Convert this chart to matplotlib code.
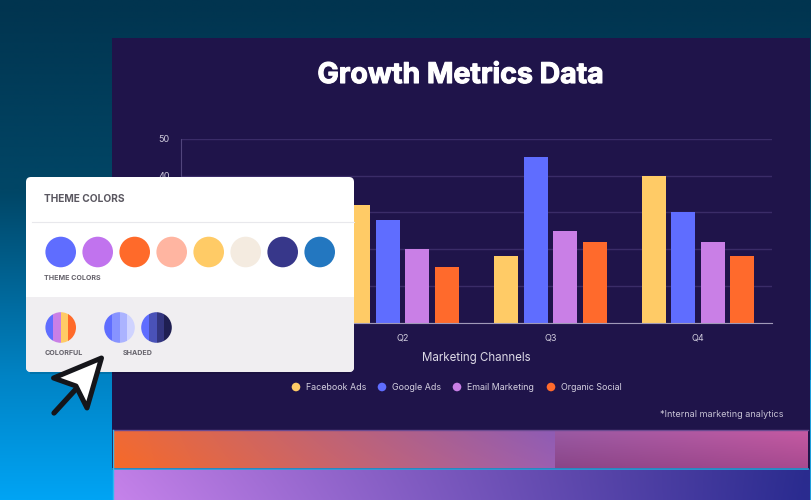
import numpy as np
import matplotlib
matplotlib.use("Agg")
import matplotlib.pyplot as plt
import matplotlib.patheffects as pe
from matplotlib.patches import Circle, FancyBboxPatch, Polygon, Rectangle
from matplotlib.colors import to_rgb

W, H = 811, 500
quarters = ["Q1", "Q2", "Q3", "Q4"]
facebook_ads = [25, 32, 18, 40]
google_ads = [30, 28, 45, 30]
email_marketing = [20, 20, 25, 22]
organic_social = [15, 15, 22, 18]
series_names = ["Facebook Ads", "Google Ads", "Email Marketing", "Organic Social"]
series_colors = ["#ffcb66", "#5f6dff", "#c97fe6", "#ff6a2c"]
yticks = [0, 10, 20, 30, 40, 50]
theme_colors = ["#5f6dff", "#c173ee", "#ff6a2a", "#ffb5a1", "#ffcb66", "#f4ebe0", "#37378a", "#2377c0"]
colorful = ["#5f6dff", "#c97fe6", "#ffcb66", "#ff6a2a"]
shaded_light = ["#5f6dff", "#8793ff", "#abb3ff", "#cfd3ff"]
shaded_dark = ["#5f6dff", "#4a52b8", "#33357f", "#1f1f52"]

plt.rcParams["font.family"] = ["Inter", "DejaVu Sans"]
fig = plt.figure(figsize=(W / 100, H / 100), dpi=100)

def layer(z):
    a = fig.add_axes([0, 0, 1, 1], zorder=z)
    a.set_xlim(0, W); a.set_ylim(H, 0); a.axis("off"); a.patch.set_alpha(0)
    return a

def grad(a, x0, x1, y0, y1, tl, tr, bl, br, z=1):
    tl, tr, bl, br = [np.array(to_rgb(c)) for c in (tl, tr, bl, br)]
    u = np.linspace(0, 1, 64)[None, :, None]
    v = np.linspace(0, 1, 64)[:, None, None]
    img = (1 - v) * ((1 - u) * tl + u * tr) + v * ((1 - u) * bl + u * br)
    a.imshow(img, extent=(x0, x1, y1, y0), aspect="auto", zorder=z, interpolation="bilinear")

bg = layer(0)
grad(bg, 0, W, 0, 190, "#01344f", "#01344f", "#014666", "#014666")
grad(bg, 0, W, 190, 380, "#014666", "#014666", "#0084c6", "#0084c6")
grad(bg, 0, W, 380, 500, "#0084c6", "#0084c6", "#00a4f4", "#00a4f4")
bg.add_patch(Rectangle((112, 38), 698, 392, color="#1f144a", zorder=2, lw=0))
bg.add_patch(Rectangle((112, 430), 698, 40, color="#1f144a", zorder=2, lw=0))
grad(bg, 113, 555, 430, 468, "#ee6a38", "#8f5cb4", "#f76a28", "#9c5fb0", z=3)
grad(bg, 555, 808, 430, 468, "#9a5aa4", "#c65aa2", "#8a4588", "#a84a90", z=3)
bg.plot([113, 808], [430, 430], color="#6a4a90", lw=1, zorder=4)
bg.plot([113, 808], [468.5, 468.5], color="#2aa0d8", lw=1.2, zorder=4)
bg.plot([112.5, 112.5], [430, 500], color="#30b8f0", lw=1, zorder=4)
grad(bg, 113, 810, 469, 500, "#c07ee6", "#2b2c8e", "#c582ea", "#2a2b90", z=3)
bg.add_patch(Rectangle((810, 380), 1, 120, color="#1fa0dc", zorder=4, lw=0))
bg.set_xlim(0, W); bg.set_ylim(H, 0)
bg.text(460.5, 75.5, "Growth Metrics Data", color="white", fontsize=20.5, fontweight="bold",
        ha="center", va="center", zorder=5,
        path_effects=[pe.withStroke(linewidth=0.8, foreground="white")])

# chart
ax = fig.add_axes([181 / W, 1 - 322.5 / H, 591 / W, 183.5 / H], zorder=1)
ax.patch.set_alpha(0)
x = np.arange(4)
bw = 24 / 147.75
step = 29.5 / 147.75
all_vals = [facebook_ads, google_ads, email_marketing, organic_social]
for i, (vals, c) in enumerate(zip(all_vals, series_colors)):
    ax.bar(x + (i - 1.5) * step, vals, bw, color=c, zorder=3)
ax.set_xlim(-0.5, 3.5)
ax.set_ylim(0, 50)
ax.set_yticks(yticks)
ax.set_xticks(x, quarters)
ax.grid(axis="y", color="#3a2c68", lw=1, zorder=0)
ax.tick_params(length=0, labelsize=6.5, labelcolor="#cfcbdc", pad=8)
for s in ["top", "right"]:
    ax.spines[s].set_visible(False)
ax.spines["left"].set_color("#51457c")
ax.spines["bottom"].set_color("#a09ab8")
ax.spines["bottom"].set_zorder(4)

txt = layer(2)
txt.text(476, 358, "Marketing Channels", color="#dcd9e6", fontsize=8.3, ha="center", va="center")
lx = [296, 382, 457, 551]
for name, c, px in zip(series_names, series_colors, lx):
    txt.add_patch(Circle((px, 387), 4.3, color=c, lw=0))
    txt.text(px + 10, 388, name, color="#d4d0e0", fontsize=6.4, va="center")
txt.text(783, 414.5, "*Internal marketing analytics", color="#c6c2d4", fontsize=6.5, ha="right", va="center")

# panel
p = layer(3)
p.add_patch(Rectangle((30, 372), 320, 2, fc="#000000", alpha=0.12, ec="none", zorder=0))
clip = FancyBboxPatch((30, 181), 320, 187, boxstyle="round,pad=4,rounding_size=5", fc="white", ec="none", zorder=1)
p.add_patch(clip)
low = Rectangle((26, 297), 328, 75, fc="#f0eef1", ec="none", zorder=2)
p.add_patch(low)
low.set_clip_path(clip)
p.plot([32, 354], [221.5, 221.5], color="#e8e8ec", lw=0.8, zorder=2)
label_font = dict(color="#66636c", fontsize=5.1, fontweight="bold", va="center", zorder=3)
p.text(44.5, 199, "THEME COLORS", color="#5a5760", fontsize=7.3, fontweight="bold", va="center", zorder=3)
p.text(44.5, 278, "THEME COLORS", **label_font)
p.text(44.5, 353, "COLORFUL", **label_font)
p.text(122.5, 353, "SHADED", **label_font)
for i, c in enumerate(theme_colors):
    p.add_patch(Circle((60.7 + 37 * i, 252), 15.3, color=c, lw=0, zorder=3))

def striped(cx, cy, r, cols):
    circ = Circle((cx, cy), r, fc="none", ec="none", zorder=3)
    p.add_patch(circ)
    w = 2 * r / len(cols)
    for i, c in enumerate(cols):
        s = Rectangle((cx - r + i * w, cy - r), w + 0.3, 2 * r, fc=c, ec="none", zorder=3)
        p.add_patch(s)
        s.set_clip_path(circ)

striped(60.7, 327.5, 15.3, colorful)
striped(119.5, 327.5, 15.3, shaded_light)
striped(156.5, 327.5, 15.3, shaded_dark)

# pointer
p.plot([54, 76], [413, 389], color="#15151a", lw=3.8, solid_capstyle="round", zorder=5)
p.add_patch(Polygon([(101.5, 358), (53.5, 378), (76, 386), (87, 408)], closed=True, fc="white",
                    ec="#15151a", lw=3.6, joinstyle="round", zorder=6))

fig.savefig("out.png", dpi=100)
